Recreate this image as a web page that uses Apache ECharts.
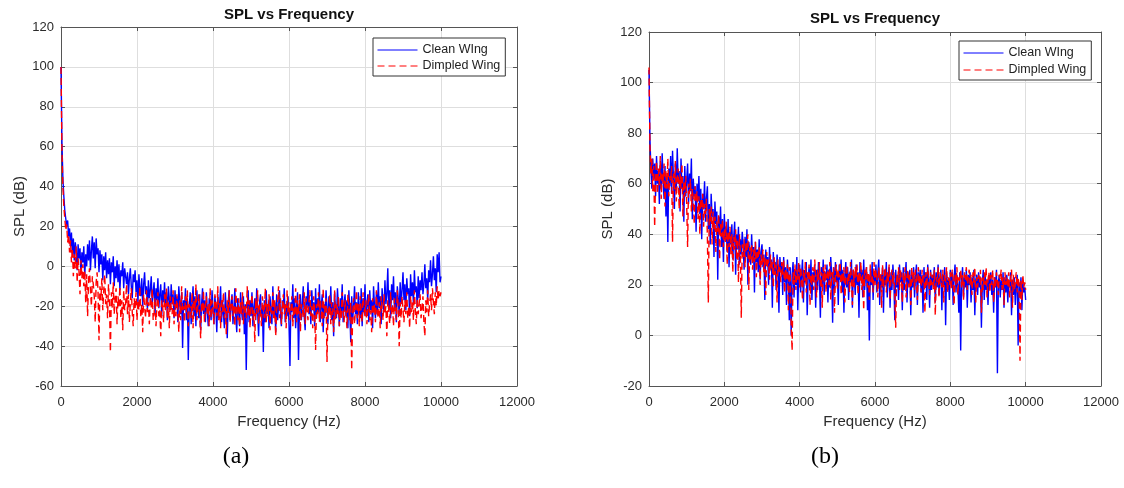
<!DOCTYPE html>
<html>
<head>
<meta charset="utf-8">
<script src="https://cdn.jsdelivr.net/npm/echarts@6/dist/echarts.min.js"></script>
<style>
html,body{margin:0;padding:0;background:#fff;}
#chart{width:1124px;height:488px;}
</style>
</head>
<body>
<div id="chart"></div>
<script>
// Frequency grid: samples every 25 Hz from 0 to 10000 Hz
const FREQ_STEP_HZ = 25;

// Panel (a) SPL values (dB)
const cleanA = [
100,62,44,35,28,24,20,23,15,19,
10,17,6,14,3,12,8,-2,11,4,
9,-4,7,2,10,-5,6,0,11,3,
13,-2,8,15,4,12,-1,14,6,9,
-3,8,1,6,-7,5,-2,7,-6,3,
-4,4,-9,2,-3,5,-10,0,-6,3,
-8,1,-12,-2,-5,2,-11,-1,0,-9,
-3,-14,-6,-1,-10,-16,-4,-8,-2,-13,
-7,-18,-4,-11,-15,-6,-20,-9,-3,-14,
-10,-22,-7,-16,-12,-5,-19,-13,-8,-24,
-11,-17,-6,-21,-14,-9,-25,-12,-18,-8,
-20,-13,-27,-10,-16,-22,-9,-19,-14,-26,
-12,-21,-15,-28,-10,-18,-24,-13,-41,-17,
-22,-11,-27,-16,-47,-20,-13,-29,-18,-10,
-25,-15,-30,-12,-21,-26,-14,-32,-19,-11,
-24,-17,-28,-13,-22,-30,-16,-20,-27,-12,
-23,-29,-15,-21,-33,-14,-26,-19,-10,-28,
-17,-24,-31,-13,-22,-36,-18,-12,-27,-20,
-14,-29,-21,-11,-25,-33,-16,-23,-30,-13,
-22,-27,-15,-34,-19,-52,-24,-12,-28,-17,
-25,-13,-30,-20,-16,-27,-11,-23,-35,-18,
-14,-26,-21,-43,-17,-28,-12,-24,-19,-31,
-15,-22,-29,-10,-25,-18,-33,-14,-27,-20,
-12,-24,-30,-17,-21,-11,-28,-19,-25,-15,
-29,-50,-18,-23,-9,-26,-16,-31,-20,-13,
-47,-22,-14,-27,-19,-10,-25,-32,-15,-21,
-8,-24,-17,-29,-12,-22,-18,-30,-11,-26,
-16,-23,-9,-28,-20,-14,-33,-19,-25,-12,
-21,-29,-15,-24,-10,-27,-18,-35,-13,-22,
-26,-11,-20,-30,-16,-23,-9,-28,-19,-14,
-25,-17,-31,-12,-22,-38,-15,-27,-20,-10,
-24,-18,-29,-13,-21,-26,-11,-30,-16,-23,
-9,-25,-19,-14,-28,-12,-22,-17,-31,-10,
-20,-26,-13,-24,-8,-21,-15,-29,-11,-18,
-23,-7,-19,-14,-1,-22,-12,-26,-9,-17,
-5,-21,-13,-28,-10,-16,-24,-8,-19,-12,
-3,-17,-9,-22,-6,-14,-11,-25,-4,-15,
-8,-19,-2,-13,-10,-21,-5,-16,-7,-12,
-3,-14,-9,1,-11,-6,-17,-2,-8,3,
-10,-4,5,-7,-1,-13,6,-3,7,-8,
-5
];
const dimpledA = [
100,58,40,30,24,18,21,12,16,7,
13,2,9,-5,6,-1,10,-8,4,-3,
-14,3,-6,1,-10,-2,-18,-4,-25,-7,
-1,-12,-20,-5,-9,-15,-28,-8,-3,-13,
-37,-10,-17,-6,-22,-12,-4,-19,-14,-26,
-9,-18,-43,-13,-21,-8,-24,-16,-11,-29,
-15,-20,-10,-26,-17,-32,-12,-22,-19,-9,
-24,-14,-28,-18,-11,-23,-30,-16,-21,-13,
-27,-17,-22,-10,-25,-19,-33,-14,-20,-26,
-12,-23,-18,-29,-15,-21,-11,-27,-24,-16,
-30,-19,-13,-25,-22,-35,-17,-20,-28,-14,
-23,-11,-26,-18,-31,-15,-21,-24,-12,-29,
-19,-25,-14,-22,-33,-17,-27,-10,-23,-20,
-28,-15,-24,-12,-30,-19,-21,-26,-13,-31,
-17,-22,-9,-27,-20,-14,-25,-36,-18,-23,
-12,-28,-21,-15,-24,-19,-30,-11,-26,-17,
-22,-29,-14,-20,-25,-10,-27,-18,-31,-16,
-23,-13,-26,-21,-34,-17,-24,-12,-28,-19,
-15,-25,-20,-30,-11,-22,-27,-16,-33,-18,
-24,-13,-29,-19,-21,-26,-10,-25,-17,-31,
-20,-14,-27,-22,-38,-16,-24,-12,-29,-19,
-23,-30,-15,-21,-26,-11,-28,-18,-25,-14,
-32,-20,-24,-13,-27,-17,-35,-22,-19,-10,
-26,-16,-29,-21,-14,-24,-19,-31,-12,-23,
-18,-27,-22,-15,-30,-20,-25,-11,-28,-17,
-24,-14,-33,-19,-21,-26,-13,-29,-16,-22,
-27,-18,-12,-25,-20,-31,-15,-23,-42,-19,
-24,-13,-28,-17,-22,-30,-11,-26,-20,-16,
-48,-21,-25,-14,-29,-18,-23,-33,-12,-27,
-19,-24,-15,-30,-21,-26,-13,-22,-28,-17,
-23,-31,-14,-20,-27,-18,-52,-24,-16,-29,
-21,-12,-26,-19,-30,-15,-23,-28,-13,-22,
-25,-17,-29,-20,-14,-27,-22,-33,-16,-24,
-19,-28,-12,-23,-26,-18,-31,-15,-21,-27,
-14,-24,-20,-35,-17,-22,-29,-13,-25,-19,
-30,-16,-23,-27,-12,-21,-40,-18,-26,-15,
-22,-28,-17,-24,-13,-26,-20,-31,-15,-23,
-18,-27,-12,-22,-29,-16,-24,-19,-14,-26,
-21,-15,-28,-35,-17,-23,-12,-25,-19,-14,
-22,-11,-18,-24,-13,-20,-10,-17,-12,-15,
-13
];

// Panel (b) SPL values (dB)
const cleanB = [
105,78,66,58,70,62,68,55,71,60,
65,52,69,58,72,61,54,67,47,63,
37,66,59,71,56,73,62,50,68,57,
74,60,65,49,70,58,63,45,67,55,
61,68,52,64,57,70,46,62,55,59,
41,60,53,63,48,58,38,56,50,61,
45,54,59,42,52,36,56,47,50,31,
53,44,49,22,47,40,51,35,46,29,
48,38,43,33,46,27,41,36,44,30,
39,45,24,40,34,43,28,38,32,41,
36,26,39,31,42,20,37,33,28,40,
30,35,17,37,29,34,25,38,22,33,
36,27,32,14,34,28,31,20,35,26,
30,11,33,24,29,18,32,26,9,31,
25,29,16,31,21,27,12,30,23,6,
27,0,24,29,15,26,20,31,10,25,
28,17,24,30,13,26,21,29,8,23,
27,19,30,14,25,22,28,11,26,18,
29,23,7,27,20,30,16,25,22,28,
13,26,19,31,24,5,27,18,29,21,
25,12,28,22,30,17,26,9,24,29,
19,27,14,25,21,30,11,26,23,16,
28,20,25,7,29,22,26,15,30,18,
24,27,10,23,-2,26,20,29,14,25,
21,28,17,25,30,12,24,19,27,9,
26,20,29,15,23,27,11,25,18,28,
22,6,26,19,24,14,28,21,25,10,
27,18,23,29,13,25,20,26,8,24,
19,27,15,23,28,12,25,21,26,17,
24,9,27,20,25,14,28,22,11,26,
18,24,21,27,13,25,19,28,16,23,
26,10,24,20,27,4,25,18,22,14,
26,21,25,12,23,28,17,24,20,9,
25,-6,22,27,15,23,19,26,11,24,
20,25,13,23,18,26,8,22,24,16,
25,19,23,3,21,26,14,24,18,22,
12,24,20,25,16,22,9,23,19,26,
-15,21,24,15,22,18,25,11,23,17,
24,13,21,19,25,8,22,16,23,12,
20,24,-4,21,15,23,10,22,17,19,
14
];
const dimpledB = [
106,75,64,70,57,67,43,62,69,56,
66,59,71,54,64,60,68,51,65,58,
70,55,63,61,67,37,64,57,69,53,
62,66,50,64,58,68,47,61,55,63,
52,35,60,56,62,49,58,54,44,59,
53,57,46,55,40,54,50,56,43,52,
48,54,39,13,50,45,51,36,49,42,
47,33,45,41,48,30,44,39,46,35,
42,37,45,28,41,35,43,32,40,25,
39,34,42,30,38,21,40,33,7,36,
31,38,27,37,33,40,18,35,30,36,
26,34,29,37,23,33,31,35,20,32,
28,34,25,31,16,33,27,30,22,32,
26,29,19,31,24,28,13,30,25,27,
21,29,24,30,17,26,22,28,10,27,
23,4,-6,25,20,28,18,26,22,29,
19,27,23,14,26,21,29,17,25,22,
28,12,24,20,27,18,30,23,15,26,
22,29,19,25,11,27,21,28,17,24,
26,20,29,14,25,22,27,9,24,28,
18,26,23,29,16,25,21,27,13,24,
28,20,25,17,29,22,12,26,19,27,
23,28,16,25,21,29,18,24,10,26,
22,27,19,25,14,28,21,24,17,29,
20,26,23,15,27,22,25,11,28,19,
24,27,17,25,21,28,14,23,26,20,
25,16,3,24,21,27,18,26,22,13,
25,20,27,15,23,26,19,24,12,27,
21,25,18,26,22,14,27,20,24,17,
26,21,24,9,25,19,27,22,16,25,
20,24,18,26,8,23,21,27,15,25,
22,19,26,13,24,21,27,17,23,20,
25,18,26,22,12,24,20,27,16,23,
21,26,19,24,14,25,22,27,18,23,
26,20,24,16,25,21,27,13,23,19,
24,21,26,9,23,18,25,20,27,15,
22,25,17,24,20,26,13,23,19,25,
21,16,24,22,26,18,23,12,25,20,
23,19,25,15,22,26,11,24,18,21,
25,17,23,20,-10,22,14,24,19,21,
18
];

const seriesNames = ['Clean WIng', 'Dimpled Wing'];
const xTicks = {min: 0, max: 12000, interval: 2000};
const yTicksA = {min: -60, max: 120, interval: 20};
const yTicksB = {min: -20, max: 120, interval: 20};
const titleText = 'SPL vs Frequency';
const xName = 'Frequency (Hz)';
const yName = 'SPL (dB)';
const panelLabels = ['(a)', '(b)'];

function pairs(vals){ return vals.map((v,i)=>[i*FREQ_STEP_HZ, v]); }

const SANS = '"Liberation Sans", Arial, Helvetica, sans-serif';
const SERIF = '"Liberation Serif", "Times New Roman", serif';
const AX = '#555';
const TXT = '#2b2b2b';
const plain = v => String(v);

function mainX(grid){
  return {gridIndex:grid, type:'value', min:xTicks.min, max:xTicks.max, interval:xTicks.interval,
    axisLine:{show:true, onZero:false, lineStyle:{color:AX, width:1}},
    axisTick:{show:true, inside:true, length:4, lineStyle:{color:AX}},
    axisLabel:{color:TXT, fontSize:13, margin:10, fontFamily:SANS, formatter:plain},
    splitLine:{show:true, lineStyle:{color:'#dedede', width:1}},
    name:xName, nameLocation:'middle', nameGap:28,
    nameTextStyle:{color:TXT, fontSize:15, fontFamily:SANS}};
}
function topX(grid){
  return {gridIndex:grid, type:'value', position:'top', min:xTicks.min, max:xTicks.max, interval:xTicks.interval,
    axisLine:{show:true, onZero:false, lineStyle:{color:AX, width:1}},
    axisTick:{show:true, inside:true, length:4, lineStyle:{color:AX}},
    axisLabel:{show:false}, splitLine:{show:false}};
}
function mainY(grid, t){
  return {gridIndex:grid, type:'value', min:t.min, max:t.max, interval:t.interval,
    axisLine:{show:true, onZero:false, lineStyle:{color:AX, width:1}},
    axisTick:{show:true, inside:true, length:4, lineStyle:{color:AX}},
    axisLabel:{color:TXT, fontSize:13, margin:7, fontFamily:SANS, formatter:plain},
    splitLine:{show:true, lineStyle:{color:'#dedede', width:1}},
    name:yName, nameLocation:'middle', nameGap:34,
    nameTextStyle:{color:TXT, fontSize:15, fontFamily:SANS}};
}
function rightY(grid, t){
  return {gridIndex:grid, type:'value', position:'right', min:t.min, max:t.max, interval:t.interval,
    axisLine:{show:true, onZero:false, lineStyle:{color:AX, width:1}},
    axisTick:{show:true, inside:true, length:4, lineStyle:{color:AX}},
    axisLabel:{show:false}, splitLine:{show:false}};
}
function lineSeries(name, data, xi, yi, color, dashed, z){
  return {name:name, type:'line', xAxisIndex:xi, yAxisIndex:yi, data:pairs(data),
    symbol:'none', showSymbol:false, sampling:null, z:z,
    lineStyle:{color:color, width:1.4, type: dashed ? [7,4] : 'solid'},
    itemStyle:{color:color}, emphasis:{disabled:true}};
}
function legendAt(left, top, gap){
  return {data:seriesNames, orient:'vertical', left:left, top:top,
    padding:[5,5,3,4], itemGap:gap, itemWidth:40, itemHeight:14,
    borderColor:'#333', borderWidth:1, backgroundColor:'#fff', borderRadius:0,
    selectedMode:false,
    itemStyle:{opacity:0},
    lineStyle:{width:1},
    textStyle:{color:'#222', fontSize:12.5, fontFamily:SANS, lineHeight:14}};
}

const chart = echarts.init(document.getElementById('chart'), null, {renderer:'canvas'});
chart.setOption({
  animation:false,
  backgroundColor:'#fff',
  grid:[
    {left:61, top:27, width:456, height:359},
    {left:649, top:32, width:452, height:354}
  ],
  xAxis:[mainX(0), topX(0), mainX(1), topX(1)],
  yAxis:[mainY(0, yTicksA), rightY(0, yTicksA), mainY(1, yTicksB), rightY(1, yTicksB)],
  legend:[legendAt(373, 38, 2), legendAt(959, 41, 3)],
  series:[
    lineSeries(seriesNames[0], cleanA, 0, 0, '#0000ff', false, 2),
    lineSeries(seriesNames[1], dimpledA, 0, 0, '#ff0000', true, 3),
    lineSeries(seriesNames[0], cleanB, 2, 2, '#0000ff', false, 2),
    lineSeries(seriesNames[1], dimpledB, 2, 2, '#ff0000', true, 3)
  ],
  graphic:[
    {type:'text', x:289, y:15, style:{text:titleText, fill:'#111', font:'bold 15px '+SANS, textAlign:'center', textVerticalAlign:'middle'}},
    {type:'text', x:875, y:19, style:{text:titleText, fill:'#111', font:'bold 15px '+SANS, textAlign:'center', textVerticalAlign:'middle'}},
    {type:'text', x:236, y:457, style:{text:panelLabels[0], fill:'#000', font:'24px '+SERIF, textAlign:'center', textVerticalAlign:'middle'}},
    {type:'text', x:825, y:457, style:{text:panelLabels[1], fill:'#000', font:'24px '+SERIF, textAlign:'center', textVerticalAlign:'middle'}}
  ]
});
</script>
</body>
</html>
